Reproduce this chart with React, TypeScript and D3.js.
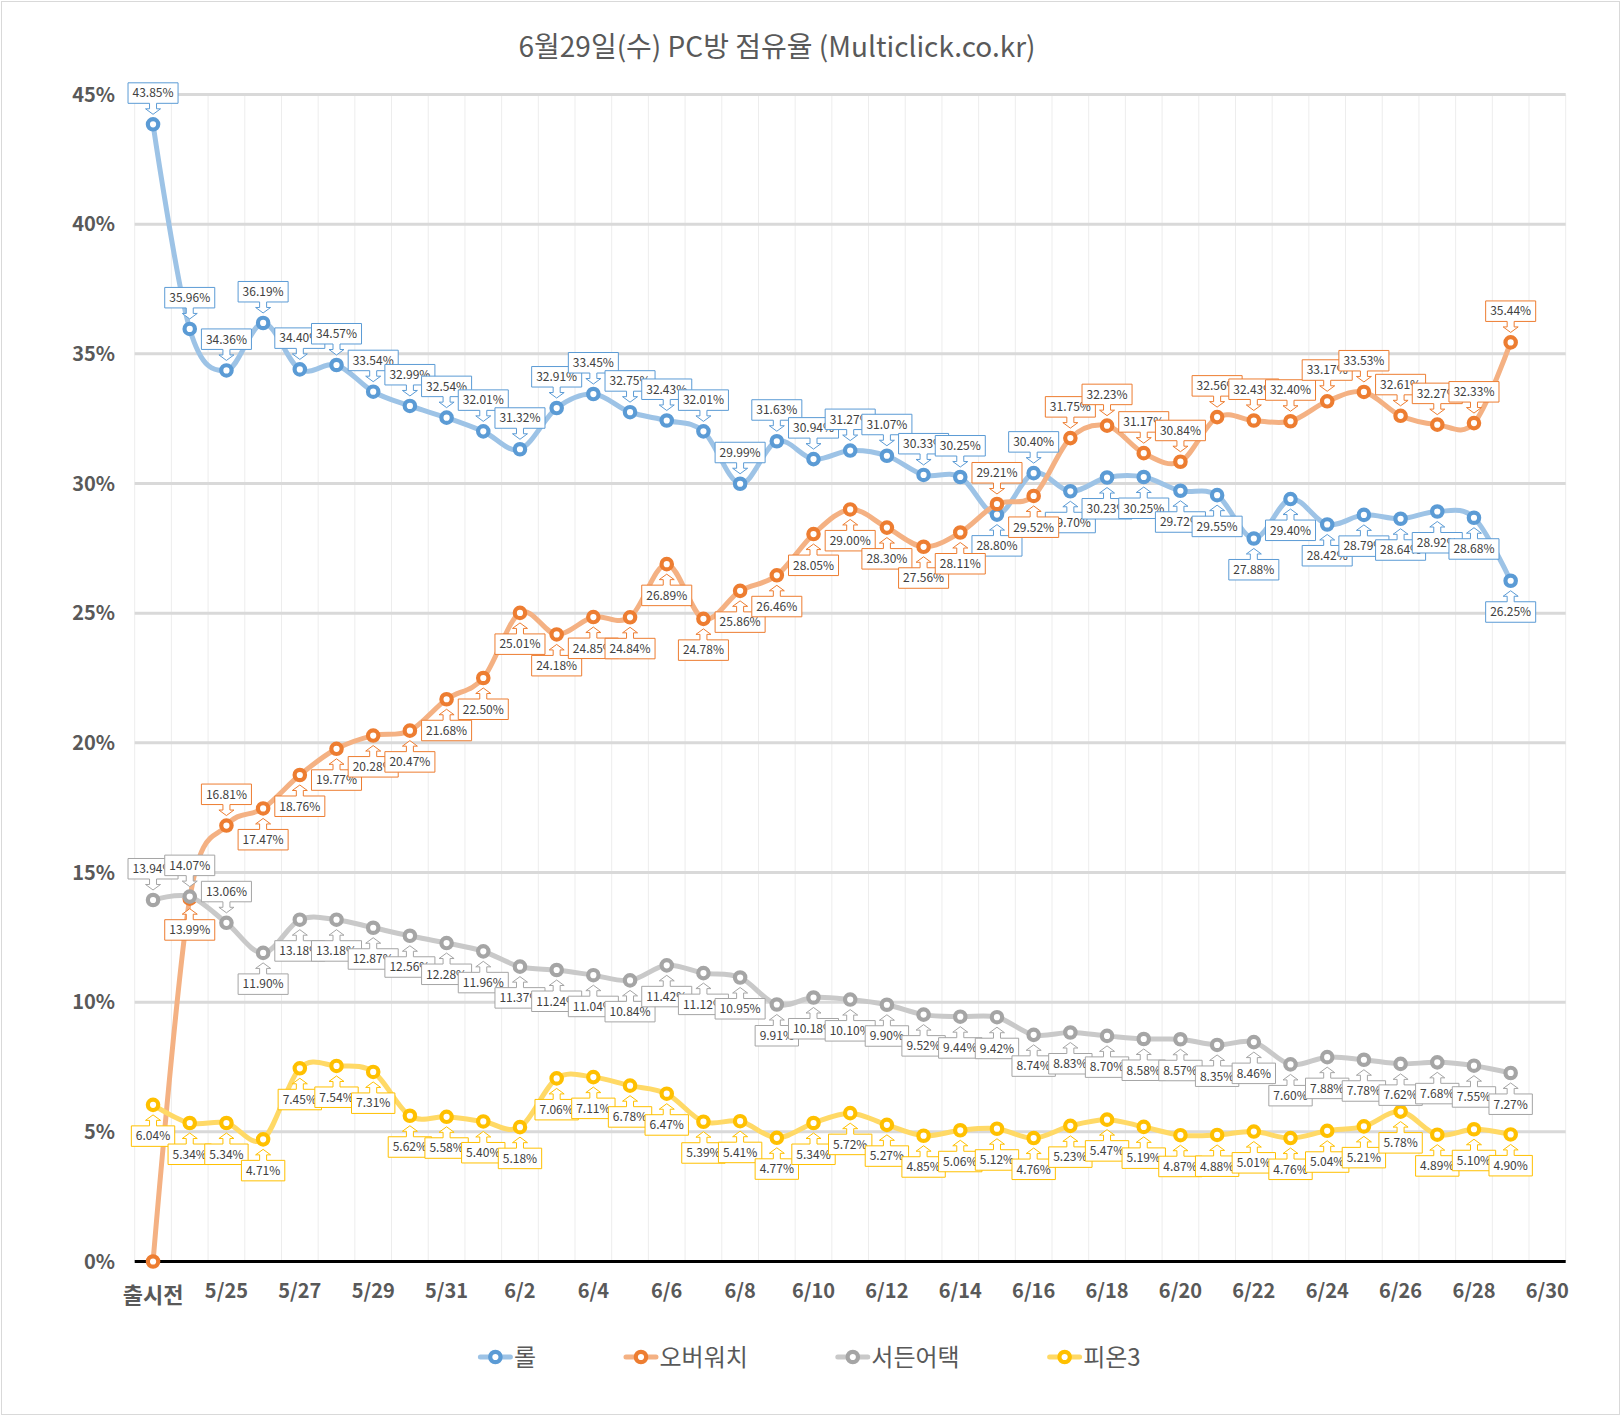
import { useEffect, useRef } from "react";
import * as d3 from "d3";

const W = 1621;
const H = 1416;
const FONT = "'Malgun Gothic', 'Noto Sans CJK KR', sans-serif";

const categories = [
  "출시전", "5/24", "5/25", "5/26", "5/27", "5/28", "5/29", "5/30", "5/31",
  "6/1", "6/2", "6/3", "6/4", "6/5", "6/6", "6/7", "6/8", "6/9", "6/10",
  "6/11", "6/12", "6/13", "6/14", "6/15", "6/16", "6/17", "6/18", "6/19", "6/20",
  "6/21", "6/22", "6/23", "6/24", "6/25", "6/26", "6/27", "6/28", "6/29", "6/30",
];

const lol = [
  43.85, 35.96, 34.36, 36.19, 34.4, 34.57, 33.54, 32.99, 32.54, 32.01, 31.32, 32.91, 33.45,
  32.75, 32.43, 32.01, 29.99, 31.63, 30.94, 31.27, 31.07, 30.33, 30.25, 28.8, 30.4, 29.7,
  30.23, 30.25, 29.72, 29.55, 27.88, 29.4, 28.42, 28.79, 28.64, 28.92, 28.68, 26.25,
];
const overwatch = [
  0, 13.99, 16.81, 17.47, 18.76, 19.77, 20.28, 20.47, 21.68, 22.5, 25.01, 24.18, 24.85,
  24.84, 26.89, 24.78, 25.86, 26.46, 28.05, 29.0, 28.3, 27.56, 28.11, 29.21, 29.52, 31.75,
  32.23, 31.17, 30.84, 32.56, 32.43, 32.4, 33.17, 33.53, 32.61, 32.27, 32.33, 35.44,
];
const suddenAttack = [
  13.94, 14.07, 13.06, 11.9, 13.18, 13.18, 12.87, 12.56, 12.28, 11.96, 11.37, 11.24, 11.04,
  10.84, 11.42, 11.12, 10.95, 9.91, 10.18, 10.1, 9.9, 9.52, 9.44, 9.42, 8.74, 8.83, 8.7,
  8.58, 8.57, 8.35, 8.46, 7.6, 7.88, 7.78, 7.62, 7.68, 7.55, 7.27,
];
const fifa3 = [
  6.04, 5.34, 5.34, 4.71, 7.45, 7.54, 7.31, 5.62, 5.58, 5.4, 5.18, 7.06, 7.11, 6.78, 6.47,
  5.39, 5.41, 4.77, 5.34, 5.72, 5.27, 4.85, 5.06, 5.12, 4.76, 5.23, 5.47, 5.19, 4.87, 4.88,
  5.01, 4.76, 5.04, 5.21, 5.78, 4.89, 5.1, 4.9,
];

// callout side per point: u = above, d = below, - = no label
const lolSides = "uuuuuuuuuuuuuuuuuuuuuuu" + "d" + "u" + "ddddddddddddd";
const overwatchSides = "-du" + "dddddddddddddddddddd" + "u" + "d" + "uuuuuuuuuuuuu";
const suddenSides = "uuu" + "d".repeat(35);
const fifaSides = "d".repeat(38);

const yTicks = [0, 5, 10, 15, 20, 25, 30, 35, 40, 45];

const series = [
  { name: "롤", values: lol, sides: lolSides, line: "#9dc3e6", marker: "#5b9bd5" },
  { name: "오버워치", values: overwatch, sides: overwatchSides, line: "#f4b183", marker: "#ed7d31" },
  { name: "서든어택", values: suddenAttack, sides: suddenSides, line: "#c9c9c9", marker: "#a5a5a5" },
  { name: "피온3", values: fifa3, sides: fifaSides, line: "#ffd966", marker: "#ffc000" },
];

function callout(px: number, py: number, w: number, side: string) {
  const h = 20.5, tip = 10, headH = 5.5, gap = 21, hw = 7.5, sw = 3.5;
  const s = side === "u" ? -1 : 1;
  const tipY = py + s * tip;
  const headY = py + s * (tip + headH);
  const boxY = py + s * gap;
  const farY = py + s * (gap + h);
  const x0 = px - w / 2;
  const x1 = px + w / 2;
  return `M${x0},${boxY}L${px - sw},${boxY}L${px - sw},${headY}L${px - hw},${headY}L${px},${tipY}L${px + hw},${headY}L${px + sw},${headY}L${px + sw},${boxY}L${x1},${boxY}L${x1},${farY}L${x0},${farY}Z`;
}

export default function App() {
  const ref = useRef<SVGSVGElement | null>(null);

  useEffect(() => {
    if (!ref.current) return;
    const svg = d3.select(ref.current);
    svg.selectAll("*").remove();

    const x = d3.scaleBand<string>().domain(categories).range([134.7, 1565.7]).padding(0);
    const cx = (i: number) => (x(categories[i]) as number) + x.bandwidth() / 2;
    const y = d3.scaleLinear().domain([0, 45]).range([1261.5, 94.5]);

    svg.append("rect").attr("width", W).attr("height", H).attr("fill", "#fff");
    svg.append("rect").attr("x", 1.5).attr("y", 1.5).attr("width", W - 3).attr("height", H - 3)
      .attr("fill", "none").attr("stroke", "#d9d9d9").attr("stroke-width", 1);

    // vertical minor grid at category boundaries
    const bounds = categories.map((c) => x(c) as number).concat([x.range()[1]]);
    svg.append("g").selectAll("line").data(bounds).join("line")
      .attr("x1", (d) => d).attr("x2", (d) => d)
      .attr("y1", y(45)).attr("y2", y(0))
      .attr("stroke", "#ededed").attr("stroke-width", 1);

    // horizontal grid
    svg.append("g").selectAll("line").data(yTicks.filter((t) => t > 0)).join("line")
      .attr("x1", x.range()[0]).attr("x2", x.range()[1])
      .attr("y1", (d) => y(d)).attr("y2", (d) => y(d))
      .attr("stroke", "#d9d9d9").attr("stroke-width", 3);

    // x axis line
    svg.append("line")
      .attr("x1", x.range()[0]).attr("x2", x.range()[1])
      .attr("y1", y(0)).attr("y2", y(0))
      .attr("stroke", "#000").attr("stroke-width", 3);

    // y tick labels
    svg.append("g").selectAll("text").data(yTicks).join("text")
      .attr("x", 115).attr("y", (d) => y(d)).attr("dy", "0.35em")
      .attr("text-anchor", "end")
      .attr("font-family", FONT).attr("font-size", 20).attr("font-weight", "bold")
      .attr("fill", "#595959")
      .text((d) => `${d}%`);

    // x tick labels (every other category)
    svg.append("g").selectAll("text")
      .data(categories.map((c, i) => ({ c, i })).filter((d) => d.i % 2 === 0))
      .join("text")
      .attr("x", (d) => cx(d.i)).attr("y", (d) => (d.i === 0 ? 1303 : 1298))
      .attr("text-anchor", "middle")
      .attr("font-family", FONT).attr("font-size", (d) => (d.i === 0 ? 22 : 20)).attr("font-weight", "bold")
      .attr("fill", "#595959")
      .text((d) => d.c);

    // lines and markers
    const lineGen = d3.line<number>()
      .x((_, i) => cx(i))
      .y((d) => y(d))
      .curve(d3.curveCatmullRom.alpha(0));

    series.forEach((s) => {
      const g = svg.append("g");
      g.append("path").attr("d", lineGen(s.values) as string)
        .attr("fill", "none").attr("stroke", s.line).attr("stroke-width", 5)
        .attr("stroke-linejoin", "round").attr("stroke-linecap", "round");
      g.selectAll("circle").data(s.values).join("circle")
        .attr("cx", (_, i) => cx(i)).attr("cy", (d) => y(d)).attr("r", 5.2)
        .attr("fill", "#fff").attr("stroke", s.marker).attr("stroke-width", 4.2);
    });

    // data callouts
    series.forEach((s) => {
      const g = svg.append("g");
      s.values.forEach((v, i) => {
        const side = s.sides[i];
        if (side === "-") return;
        const px = cx(i);
        const py = y(v);
        const lg = g.append("g");
        const path = lg.append("path").attr("fill", "#fff").attr("stroke", s.marker).attr("stroke-width", 1);
        const ty = side === "u" ? py - 21 - 10.25 : py + 21 + 10.25;
        const t = lg.append("text")
          .attr("x", px).attr("y", ty).attr("dy", "0.36em")
          .attr("text-anchor", "middle")
          .attr("font-family", FONT).attr("font-size", 12)
          .attr("fill", "#404040")
          .text(`${v.toFixed(2)}%`);
        const tw = (t.node() as SVGTextElement).getComputedTextLength();
        path.attr("d", callout(px, py, tw + 9, side));
      });
    });

    // title
    svg.append("text")
      .attr("x", 777).attr("y", 57)
      .attr("text-anchor", "middle")
      .attr("font-family", FONT).attr("font-size", 28)
      .attr("fill", "#595959")
      .text("6월29일(수) PC방 점유율 (Multiclick.co.kr)");

    // legend
    const legend = svg.append("g");
    const ly = 1357;
    let cur = 0;
    series.forEach((s) => {
      const g = legend.append("g");
      g.append("line").attr("x1", -15).attr("x2", 15).attr("y1", 0).attr("y2", 0)
        .attr("stroke", s.line).attr("stroke-width", 5).attr("stroke-linecap", "round");
      g.append("circle").attr("r", 5.2).attr("fill", "#fff")
        .attr("stroke", s.marker).attr("stroke-width", 4.2);
      const t = g.append("text").attr("x", 18.5).attr("dy", "0.36em")
        .attr("font-family", FONT).attr("font-size", 24).attr("fill", "#595959")
        .text(s.name);
      const tw = (t.node() as SVGTextElement).getComputedTextLength();
      g.attr("transform", `translate(${cur},${ly})`);
      cur += 18.5 + tw + 105;
    });
    const total = cur - 105 + 15;
    const shift = W / 2 - (total / 2 - 15);
    legend.attr("transform", `translate(${shift},0)`);
  }, []);

  return (
    <svg
      ref={ref}
      width={W}
      height={H}
      style={{ position: "absolute", left: 0, top: 0, display: "block" }}
    />
  );
}
